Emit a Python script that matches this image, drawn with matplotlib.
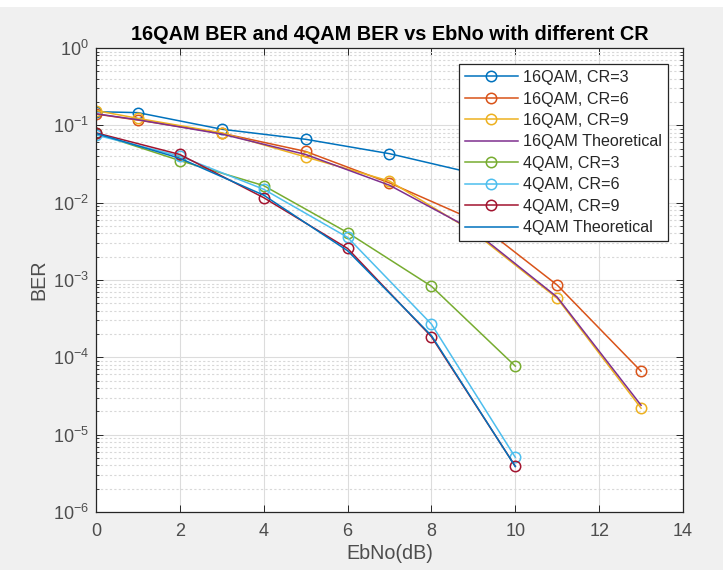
import matplotlib
matplotlib.use("Agg")
import matplotlib.pyplot as plt
from matplotlib.ticker import LogLocator, MultipleLocator, NullFormatter, FixedLocator
from matplotlib.patches import Rectangle

# ---- data ----
ebno_16 = [0, 1, 3, 5, 7, 9, 11, 13]
ber16_cr3 = [0.150, 0.146, 0.089, 0.066, 0.043, 0.024, 0.013, 0.007]
ber16_cr6 = [0.140, 0.117, 0.079, 0.046, 0.018, 6.0e-3, 8.6e-4, 6.6e-5]
ber16_cr9 = [0.155, 0.123, 0.080, 0.039, 0.019, 4.2e-3, 5.8e-4, 2.2e-5]
ber16_theo = [0.141, 0.118, 0.077, 0.042, 0.0168, 4.4e-3, 6.0e-4, 2.4e-5]

ebno_4 = [0, 2, 4, 6, 8, 10]
ber4_cr3 = [0.079, 0.035, 0.0166, 4.1e-3, 8.3e-4, 7.7e-5]
ber4_cr6 = [0.075, 0.040, 0.0149, 3.56e-3, 2.69e-4, 5.1e-6]
ber4_cr9 = [0.080, 0.042, 0.0116, 2.56e-3, 1.85e-4, 3.9e-6]
ber4_theo = [0.0786, 0.0375, 0.0125, 2.39e-3, 1.91e-4, 3.87e-6]

labels = ["16QAM, CR=3", "16QAM, CR=6", "16QAM, CR=9", "16QAM Theoretical",
          "4QAM, CR=3", "4QAM, CR=6", "4QAM, CR=9", "4QAM Theoretical"]
colors = ["#0072BD", "#D95319", "#EDB120", "#7E2F8E",
          "#77AC30", "#4DBEEE", "#A2142F", "#0072BD"]

yticks = [1e-6, 1e-5, 1e-4, 1e-3, 1e-2, 1e-1, 1e0]
ytick_labels = [r"$10^{-6}$", r"$10^{-5}$", r"$10^{-4}$", r"$10^{-3}$",
                r"$10^{-2}$", r"$10^{-1}$", r"$10^{0}$"]

title = "16QAM BER and 4QAM BER vs EbNo with different CR"
xlabel = "EbNo(dB)"
ylabel = "BER"

plt.rcParams['font.family'] = ['Liberation Sans', 'DejaVu Sans']
plt.rcParams['mathtext.fontset'] = 'custom'
plt.rcParams['mathtext.rm'] = 'Liberation Sans'
plt.rcParams['mathtext.it'] = 'Liberation Sans'
plt.rcParams['mathtext.default'] = 'regular'

fig = plt.figure(figsize=(7.23, 5.70), dpi=100, facecolor="#f0f0f0")
fig.patches.append(Rectangle((0, 1 - 7/570), 1, 7/570, transform=fig.transFigure,
                             facecolor="white", edgecolor="none", zorder=-1))
ax = fig.add_axes([96/723, 1 - 512/570, (683-96)/723, (512-48)/570])

series = [
    (ebno_16, ber16_cr3, True),
    (ebno_16, ber16_cr6, True),
    (ebno_16, ber16_cr9, True),
    (ebno_16, ber16_theo, False),
    (ebno_4, ber4_cr3, True),
    (ebno_4, ber4_cr6, True),
    (ebno_4, ber4_cr9, True),
    (ebno_4, ber4_theo, False),
]
for (x, y, mk), lab, c in zip(series, labels, colors):
    ax.semilogy(x, y, color=c, lw=1.1, marker='o' if mk else None,
                markersize=7.5, markerfacecolor='none', markeredgewidth=1.1,
                label=lab)

ax.set_xlim(0, 14)
ax.set_ylim(1e-6, 1)
ax.xaxis.set_major_locator(MultipleLocator(2))
ax.set_yticks(yticks)
ax.set_yticklabels(ytick_labels)
ax.yaxis.set_minor_locator(LogLocator(base=10, subs=range(2, 10), numticks=100))
ax.yaxis.set_minor_formatter(NullFormatter())

ax.grid(True, which='major', color='#dcdcdc', lw=0.8, ls='-')
ax.grid(True, which='minor', axis='y', color='#d8d8d8', lw=0.8, ls=(0, (2, 2)))
ax.set_axisbelow(True)

ax.tick_params(which='both', direction='in', top=True, right=True,
               colors='#262626', labelsize=13)
ax.tick_params(which='major', length=5, width=0.7)
ax.tick_params(which='minor', length=2.5, width=0.6)
ax.tick_params(axis='x', which='major', pad=8)
ax.tick_params(axis='y', which='major', pad=5)
ax.tick_params(axis='both', labelcolor='#4d4d4d')
for s in ax.spines.values():
    s.set_color('#262626')
    s.set_linewidth(0.9)

ax.set_title(title, fontsize=14.3, fontweight='bold', color='black', pad=6)
ax.set_xlabel(xlabel, fontsize=14.2, color='#4d4d4d', labelpad=3)
ax.set_ylabel(ylabel, fontsize=14.2, color='#4d4d4d', labelpad=3)

leg = ax.legend(loc='upper right', bbox_to_anchor=((668-96)/587, (512-64)/464),
                fontsize=11.6, handlelength=3.3, handletextpad=0.3,
                labelspacing=0.4, borderpad=0.38, borderaxespad=0,
                fancybox=False, framealpha=1, edgecolor='#262626')
leg.get_frame().set_linewidth(0.9)
for t in leg.get_texts():
    t.set_color('#262626')

fig.savefig("out.png", dpi=100, facecolor=fig.get_facecolor())
